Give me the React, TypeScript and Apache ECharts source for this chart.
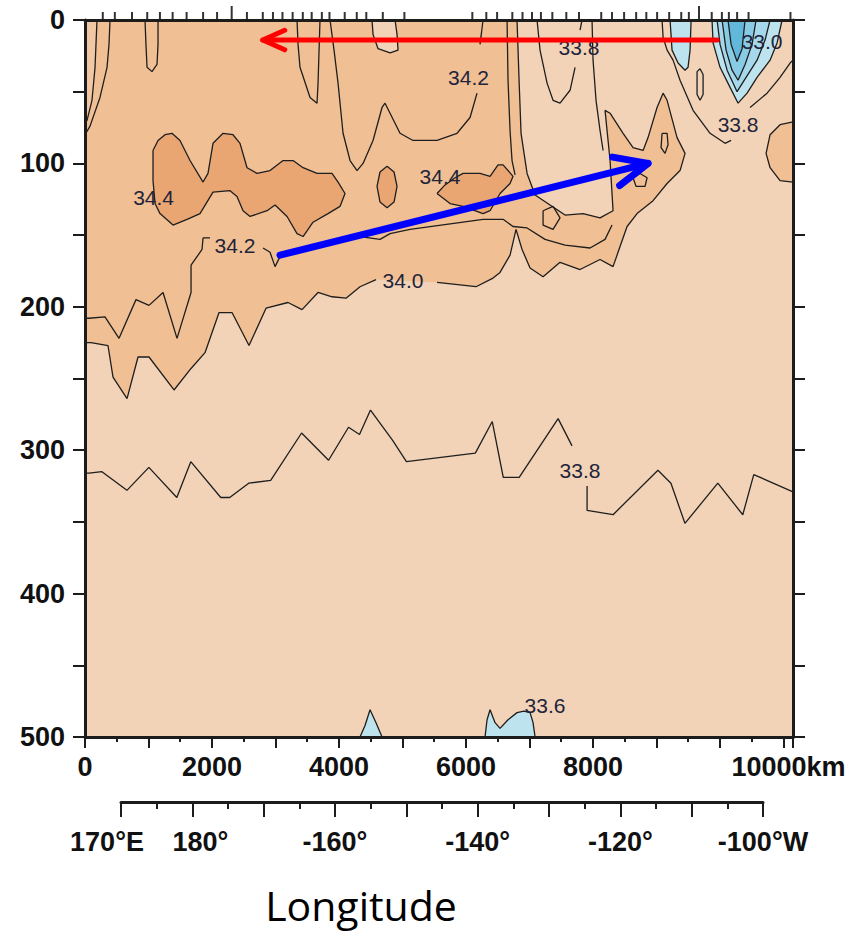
import React, { useEffect, useRef } from 'react';
import * as echarts from 'echarts';

// ---------- axes ----------
const distanceMax = 11150; // km at the right edge of the section
const depthMax = 500;
const distanceLabelValues = [0, 2000, 4000, 6000, 8000, 10000];
const depthLabelValues = [0, 100, 200, 300, 400, 500];
const lonLabelText: [number, string][] = [
  [170, '170°E'], [180, '180°'], [200, '-160°'], [220, '-140°'], [240, '-120°'], [260, '-100°W'],
];

// CTD stations (km) marked on the top edge
const stationKm = [280, 470, 740, 980, 1180, 1380, 1600, 1860, 2080, 2550, 2800, 2960, 3110, 3270, 3430, 3570,
  3730, 3850, 4090, 4280, 4430, 4690, 5030, 6100, 6320, 6490, 6730, 6890, 7040, 7180, 7360, 7580, 7780, 8130,
  8300, 8490, 8680, 8840, 9010, 9200, 9390, 9510, 9870, 10030, 10140, 10270, 10450, 11110];
const tallStationKm = [2310, 9670];

// ---------- contours: [km, depth m] ----------
const c338DeepA = [[0, 316], [63, 316], [267, 315], [660, 328], [1006, 312], [1446, 333], [1666, 308], [2138, 333],
  [2279, 333], [2578, 323], [2924, 321], [3411, 288], [3836, 307], [4150, 284], [4323, 289], [4496, 272], [4842, 293],
  [5062, 308], [6147, 302], [6414, 280], [6587, 319], [6838, 319], [7451, 278], [7670, 297]];
const c338DeepB = [[7907, 325], [7907, 342], [8316, 345], [9023, 314], [9228, 323], [9448, 351], [9966, 323],
  [10359, 345], [10532, 317], [11150, 329]];

const c340a = [[0, 225], [95, 225], [362, 227], [441, 249], [662, 264], [835, 235], [1008, 235], [1402, 258],
  [1670, 243], [1890, 232], [2111, 204], [2315, 204], [2583, 227], [2851, 201], [3197, 197], [3418, 202], [3670, 190],
  [3890, 193], [4111, 194], [4331, 186], [4583, 181]];
const c340b = [[5544, 183], [6158, 186], [6426, 180], [6536, 176], [6694, 164], [6788, 146], [6883, 160], [7009, 173],
  [7214, 179], [7481, 169], [7796, 174], [8111, 167], [8316, 172], [8426, 158], [8537, 144], [8694, 135], [8946, 126],
  [9167, 114], [9371, 105], [9450, 93], [9324, 82], [9167, 56], [9104, 51], [9009, 61], [8867, 82], [8789, 91],
  [8631, 89], [8474, 79], [8269, 65], [8190, 63], [8269, 98], [8316, 133], [8111, 138], [7844, 135], [7560, 136],
  [7324, 129], [7088, 122], [6962, 107], [6867, 79], [6836, 42], [6804, 0]];

const c342LeftA = [[0, 208], [63, 208], [315, 207], [536, 222], [803, 195], [1008, 199], [1229, 190], [1449, 222],
  [1670, 190], [1670, 171], [1843, 160], [1859, 152], [1969, 152]];
const c342LeftB = [[2804, 159], [2914, 162], [2993, 172], [3071, 165], [3386, 160], [3859, 156], [4331, 151],
  [4646, 153], [4804, 149], [5119, 146], [6269, 139], [6584, 139], [6741, 144], [6962, 145], [7245, 153], [7560, 157],
  [7954, 159], [8190, 153], [8300, 143]];
const c342V1 = [[189, 0], [173, 17], [158, 33], [110, 56], [32, 70], [0, 72]];
const c342V2 = [[394, 0], [378, 17], [347, 33], [236, 54], [79, 74], [0, 80]];
const tongue1 = [[945, 0], [960, 17], [977, 33], [1055, 36], [1134, 31], [1150, 17], [1150, 0]];
const tongue2 = [[3339, 0], [3355, 17], [3386, 33], [3544, 54], [3654, 58], [3670, 44], [3701, 0]];
const c342WA = [[3859, 0], [3922, 21], [3985, 44], [4064, 79], [4174, 98], [4284, 105], [4379, 100], [4536, 84],
  [4678, 61], [4725, 58], [4804, 65], [4961, 79], [5166, 84], [5544, 84], [5859, 79], [6064, 68], [6174, 51]];
const c342WB = [[6221, 17], [6269, 0]];
const lightPatch = [[4520, 0], [4536, 10], [4615, 20], [4804, 23], [4930, 21], [4914, 10], [4883, 0]];
const vertLine1 = [[6647, 0], [6662, 42], [6694, 77], [6725, 98], [6773, 108]];
const tongue3A = [[7119, 0], [7166, 21], [7277, 44], [7371, 56], [7481, 58], [7639, 49], [7718, 33]];
const tongue3B = [[7796, 7], [7828, 0]];
const vertLine2 = [[7985, 0], [8001, 28], [8048, 56], [8111, 77], [8159, 91]];
const c338BlueA = [[9088, 0], [9104, 12], [9167, 21], [9261, 28], [9371, 42], [9576, 63], [9844, 79], [10080, 86],
  [10175, 84]];
const c338BlueB = [[10474, 61], [10742, 51], [10946, 40], [11104, 30], [11150, 28]];

const blob1 = [[1071, 91], [1150, 84], [1260, 80], [1370, 79], [1496, 84], [1654, 98], [1859, 113], [1937, 107],
  [2016, 86], [2174, 79], [2331, 80], [2441, 86], [2552, 103], [2709, 107], [2914, 105], [3119, 98], [3276, 98],
  [3434, 103], [3654, 107], [3890, 107], [3985, 113], [4095, 121], [4016, 130], [3827, 135], [3591, 141], [3434, 151],
  [3339, 149], [3182, 137], [2993, 129], [2867, 133], [2599, 137], [2489, 133], [2394, 123], [2284, 119], [2016, 120],
  [1811, 135], [1607, 139], [1386, 143], [1181, 135], [1103, 128], [1071, 112]];
const blob2 = [[4757, 102], [4867, 106], [4914, 116], [4867, 127], [4757, 131], [4646, 127], [4599, 116], [4646, 106]];
const blob3 = [[5544, 121], [5670, 115], [5828, 110], [5954, 107], [6221, 107], [6379, 109], [6505, 101], [6584, 101],
  [6741, 109], [6694, 114], [6536, 121], [6379, 133], [6269, 135], [5954, 130], [5749, 128]];
const loop1 = [[9088, 79], [9167, 79], [9182, 87], [9135, 93], [9072, 89]];
const loop2 = [[8631, 110], [8741, 107], [8852, 110], [8820, 116], [8678, 116]];
const loop3 = [[7214, 133], [7371, 130], [7481, 138], [7371, 146], [7214, 143]];
const loop4 = [[9639, 36], [9686, 34], [9734, 38], [9734, 52], [9686, 56], [9639, 52]];
const halfDisc = [[11150, 71], [10946, 73], [10789, 80], [10726, 93], [10789, 103], [10946, 112], [11150, 113]];

const blueTongue = [[9214, 0], [9245, 21], [9340, 30], [9450, 35], [9497, 33], [9529, 21], [9545, 0]];
const blue1 = [[9875, 0], [9891, 16], [10001, 33], [10159, 47], [10285, 58], [10427, 51], [10584, 40], [10789, 28],
  [10899, 16], [10978, 0]];
const blue2 = [[9954, 0], [10001, 17], [10112, 35], [10269, 50], [10411, 40], [10584, 28], [10710, 14], [10789, 0]];
const blue3 = [[10033, 0], [10096, 21], [10190, 35], [10285, 42], [10395, 31], [10505, 17], [10568, 0]];
const blue4 = [[10127, 0], [10175, 17], [10269, 29], [10348, 20], [10395, 0]];
const bump1 = [[4331, 500], [4410, 492], [4489, 481], [4583, 490], [4678, 500]];
const bump2 = [[6300, 500], [6332, 488], [6379, 481], [6458, 490], [6536, 494], [6662, 488], [6804, 483], [6914, 482],
  [7009, 483], [7056, 490], [7088, 500]];

// contour labels: [km, depth, text]
const contourLabels: [number, number, string][] = [
  [1080, 124, '34.4'], [5591, 109, '34.4'], [2363, 157, '34.2'], [6040, 40, '34.2'], [5009, 182, '34.0'],
  [7780, 19, '33.8'], [10285, 73, '33.8'], [7796, 314, '33.8'], [10663, 15, '33.0'], [7245, 478, '33.6'],
];

// annotation arrows: [tail, tip] in [km, depth]
const redArrow = [[9955, 14], [2800, 14]];
const blueArrow = [[3071, 164], [8867, 100]];

// ---------- colours ----------
const colBase = '#F2D3B7';
const colOrange = '#F0BF94';
const colDark = '#E9A673';
const colStrip = '#F2C8A4';
const blues = ['#BDE3EE', '#A5D8EA', '#88CBE4', '#62B8DA'];
const FONT = 'Liberation Sans';
const INK = '#111111';

function ring(a: number[][]) {
  return [...a, a[0]];
}

export default function App() {
  const ref = useRef<HTMLDivElement>(null);
  useEffect(() => {
    if (!ref.current) return;
    const chart = echarts.init(ref.current, undefined, { renderer: 'svg' });

    const fills = [
      { pts: [[0, 0], ...c340a, ...c340b], color: colOrange },
      { pts: [[0, 0], ...c342V1], color: colStrip },
      { pts: lightPatch, color: colBase },
      { pts: halfDisc, color: colOrange },
      { pts: blob1, color: colDark },
      { pts: blob2, color: colDark },
      { pts: blob3, color: colDark },
      { pts: blueTongue, color: blues[0] },
      { pts: blue1, color: blues[0] },
      { pts: blue2, color: blues[1] },
      { pts: blue3, color: blues[2] },
      { pts: blue4, color: blues[3] },
      { pts: bump1, color: blues[0] },
      { pts: bump2, color: blues[0] },
    ];

    const lines = [
      c338DeepA, c338DeepB, c340a, c340b, c342LeftA, c342LeftB, c342V1, c342V2, tongue1, tongue2, c342WA, c342WB,
      lightPatch, vertLine1, tongue3A, tongue3B, vertLine2, c338BlueA, c338BlueB,
      ring(blob1), ring(blob2), ring(blob3), ring(loop1), ring(loop2), ring(loop3), ring(loop4),
      halfDisc, blueTongue, blue1, blue2, blue3, blue4, bump1, bump2,
    ];

    const arrowSeries = (pts: number[][], color: string, width: number, head: number) => ({
      type: 'custom',
      coordinateSystem: 'cartesian2d',
      xAxisIndex: 0,
      yAxisIndex: 0,
      z: 10,
      silent: true,
      clip: false,
      data: [[0, 0]],
      renderItem: (_p: any, api: any) => {
        const a = api.coord(pts[0]);
        const b = api.coord(pts[1]);
        const ang = Math.atan2(a[1] - b[1], a[0] - b[0]);
        const s = (24 * Math.PI) / 180;
        const h1 = [b[0] + head * Math.cos(ang + s), b[1] + head * Math.sin(ang + s)];
        const h2 = [b[0] + head * Math.cos(ang - s), b[1] + head * Math.sin(ang - s)];
        return {
          type: 'group',
          children: [
            { type: 'line', shape: { x1: a[0], y1: a[1], x2: b[0], y2: b[1] },
              style: { stroke: color, lineWidth: width, lineCap: 'round' } },
            { type: 'polyline', shape: { points: [h1, b, h2] },
              style: { stroke: color, lineWidth: width, fill: null, lineCap: 'round', lineJoin: 'round' } },
          ],
        };
      },
    });

    const axisLineStyle = { color: '#1c1c1c', width: 3 };
    const lbl = { fontFamily: FONT, fontSize: 27, fontWeight: 'bold', color: INK };
    const option: any = {
      animation: false,
      grid: [
        { left: 85, top: 20, width: 708, height: 717, show: true, backgroundColor: colBase, borderWidth: 0 },
        { left: 121, top: 801, width: 642, height: 1 },
      ],
      xAxis: [
        {
          gridIndex: 0, type: 'value', position: 'bottom', min: 0, max: distanceMax, interval: 1000, z: 6,
          axisLine: { show: true, onZero: false, lineStyle: axisLineStyle },
          axisTick: { show: true, length: 11, lineStyle: { color: '#1c1c1c', width: 2 } },
          minorTick: { show: true, splitNumber: 2, length: 5, lineStyle: { color: '#1c1c1c', width: 2 } },
          splitLine: { show: false },
          axisLabel: {
            margin: 16, ...lbl,
            formatter: (v: number) => {
              if (!distanceLabelValues.includes(v)) return '';
              if (v === distanceLabelValues[distanceLabelValues.length - 1]) return '{k|' + v + 'km}';
              return String(v);
            },
            rich: { k: { ...lbl, padding: [0, 0, 0, 137] } },
          },
        },
        {
          gridIndex: 0, type: 'value', position: 'top', min: 0, max: distanceMax, z: 6,
          axisLine: { show: true, onZero: false, lineStyle: axisLineStyle },
          axisTick: { show: false }, axisLabel: { show: false }, splitLine: { show: false },
        },
        {
          gridIndex: 1, type: 'value', position: 'bottom', min: 170, max: 260, interval: 10,
          axisLine: { show: true, onZero: false, lineStyle: axisLineStyle },
          axisTick: { show: true, length: 15, lineStyle: { color: '#1c1c1c', width: 2 } },
          minorTick: { show: true, splitNumber: 2, length: 7, lineStyle: { color: '#1c1c1c', width: 2 } },
          splitLine: { show: false },
          axisLabel: {
            margin: 26, ...lbl,
            formatter: (v: number) => {
              const t = lonLabelText.find((l) => l[0] === v);
              if (!t) return '';
              if (v === 170) return '{w|' + t[1] + '}';
              if (v === 180) return '{e|' + t[1] + '}';
              return t[1];
            },
            rich: {
              w: { ...lbl, padding: [0, 28, 0, 0] },
              e: { ...lbl, padding: [0, 0, 0, 16] },
            },
          },
        },
      ],
      yAxis: [
        {
          gridIndex: 0, type: 'value', position: 'left', inverse: true, min: 0, max: depthMax, interval: 50, z: 6,
          axisLine: { show: true, onZero: false, lineStyle: axisLineStyle },
          axisTick: { show: true, length: 12, lineStyle: { color: '#1c1c1c', width: 2 } },
          splitLine: { show: false },
          axisLabel: {
            margin: 20, ...lbl, padding: [6, 0, 0, 0],
            formatter: (v: number) => (depthLabelValues.includes(v) ? String(v) : ''),
          },
        },
        {
          gridIndex: 0, type: 'value', position: 'right', inverse: true, min: 0, max: depthMax, interval: 50, z: 6,
          axisLine: { show: true, onZero: false, lineStyle: axisLineStyle },
          axisTick: { show: true, length: 12, lineStyle: { color: '#1c1c1c', width: 2 } },
          axisLabel: { show: false }, splitLine: { show: false },
        },
        { gridIndex: 1, type: 'value', min: 0, max: 1, show: false },
      ],
      graphic: [
        {
          type: 'text', x: 361, y: 905, z: 20,
          style: { text: 'Longitude', fontFamily: 'Open Sans', fontSize: 41, fill: '#000', align: 'center', verticalAlign: 'middle' },
        },
      ],
      series: [
        {
          type: 'custom', coordinateSystem: 'cartesian2d', xAxisIndex: 0, yAxisIndex: 0, z: 1, silent: true, clip: true,
          data: fills.map(() => [0, 0]),
          renderItem: (params: any, api: any) => {
            const f = fills[params.dataIndex];
            return { type: 'polygon', shape: { points: f.pts.map((p) => api.coord(p)) }, style: { fill: f.color } };
          },
        },
        ...lines.map((d) => ({
          type: 'line', xAxisIndex: 0, yAxisIndex: 0, data: d, z: 3, silent: true,
          symbol: 'none', showSymbol: false, clip: true,
          lineStyle: { color: '#1e1e1e', width: 1.3 },
        })),
        {
          type: 'custom', coordinateSystem: 'cartesian2d', xAxisIndex: 0, yAxisIndex: 0, z: 4, silent: true, clip: false,
          data: contourLabels.map((l) => [l[0], l[1]]),
          renderItem: (params: any, api: any) => {
            const p = api.coord([api.value(0), api.value(1)]);
            return {
              type: 'text', x: p[0], y: p[1],
              style: { text: contourLabels[params.dataIndex][2], fontFamily: FONT, fontSize: 21, fill: '#22243a', align: 'center', verticalAlign: 'middle' },
            };
          },
        },
        {
          type: 'custom', coordinateSystem: 'cartesian2d', xAxisIndex: 0, yAxisIndex: 0, z: 5, silent: true, clip: false,
          data: [...stationKm.map((k) => [k, 0, 0]), ...tallStationKm.map((k) => [k, 0, 1])],
          renderItem: (_params: any, api: any) => {
            const p = api.coord([api.value(0), 0]);
            const len = api.value(2) ? 13 : 7;
            return { type: 'line', shape: { x1: p[0], y1: p[1] - 1, x2: p[0], y2: p[1] - 1 - len }, style: { stroke: '#333', lineWidth: 2 } };
          },
        },
        arrowSeries(redArrow, '#FF0000', 5, 24),
        arrowSeries(blueArrow, '#0000FF', 7, 36),
      ],
    };
    chart.setOption(option);
    return () => chart.dispose();
  }, []);
  return <div ref={ref} style={{ position: 'absolute', left: 0, top: 0, width: 863, height: 933 }} />;
}
